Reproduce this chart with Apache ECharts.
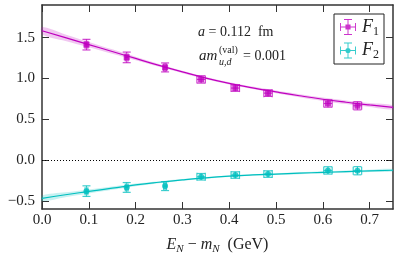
<!DOCTYPE html>
<html>
<head>
<meta charset="utf-8">
<script src="https://cdn.jsdelivr.net/npm/echarts@6/dist/echarts.min.js"></script>
<style>html,body{margin:0;padding:0;background:#fff}#c{width:399px;height:258px}</style>
</head>
<body>
<div id="c"></div>
<script>
// ---- data ----
const xTicks = [0.0, 0.1, 0.2, 0.3, 0.4, 0.5, 0.6, 0.7];
const yTicks = [-0.5, 0.0, 0.5, 1.0, 1.5];

const f1X    = [0.095, 0.181, 0.263, 0.340, 0.413, 0.483, 0.611, 0.674];
const f1Y    = [1.414, 1.258, 1.135, 0.988, 0.882, 0.820, 0.693, 0.665];
const f1Xerr = [0.003, 0.003, 0.003, 0.009, 0.009, 0.009, 0.009, 0.009];
const f1Yerr = [0.065, 0.065, 0.055, 0.045, 0.040, 0.040, 0.045, 0.050];

const f2X    = [0.095, 0.181, 0.263, 0.340, 0.413, 0.483, 0.611, 0.674];
const f2Y    = [-0.381, -0.336, -0.319, -0.205, -0.184, -0.172, -0.127, -0.131];
const f2Xerr = [0.003, 0.003, 0.003, 0.009, 0.009, 0.009, 0.009, 0.009];
const f2Yerr = [0.065, 0.060, 0.055, 0.040, 0.040, 0.040, 0.045, 0.050];

const fitX   = [0.00, 0.05, 0.10, 0.15, 0.20, 0.25, 0.30, 0.35, 0.40, 0.45, 0.50, 0.55, 0.60, 0.65, 0.70, 0.75];
const f1Fit  = [1.585, 1.500, 1.415, 1.330, 1.245, 1.160, 1.080, 1.005, 0.940, 0.885, 0.835, 0.788, 0.745, 0.708, 0.675, 0.645];
const f1Band = [0.045, 0.040, 0.033, 0.027, 0.022, 0.018, 0.015, 0.014, 0.014, 0.015, 0.016, 0.018, 0.020, 0.022, 0.024, 0.026];
const f2Fit  = [-0.470, -0.425, -0.385, -0.345, -0.305, -0.272, -0.243, -0.218, -0.198, -0.183, -0.172, -0.161, -0.151, -0.142, -0.133, -0.125];
const f2Band = [0.035, 0.030, 0.025, 0.020, 0.016, 0.013, 0.011, 0.010, 0.010, 0.010, 0.011, 0.012, 0.013, 0.014, 0.015, 0.016];

// ---- chart ----
const MAG = '#bf00bf', CYA = '#00bfbf';
const FONT = '"Liberation Serif", "DejaVu Serif", serif';
const AX = '#333';

function bandSeries(fit, band, color) {
  return {
    type: 'custom', coordinateSystem: 'cartesian2d', silent: true, z: 1,
    data: [[fitX[0], fit[0]]],
    encode: { x: 0, y: 1 },
    renderItem: function (params, api) {
      const pts = [];
      for (let i = 0; i < fitX.length; i++) pts.push(api.coord([fitX[i], fit[i] + band[i]]));
      for (let i = fitX.length - 1; i >= 0; i--) pts.push(api.coord([fitX[i], fit[i] - band[i]]));
      return { type: 'polygon', shape: { points: pts, smooth: 0.3 }, style: { fill: color, opacity: 0.22 } };
    }
  };
}
function errSeries(xs, ys, xe, ye, color) {
  const data = xs.map((x, i) => [x, ys[i], xe[i], ye[i]]);
  return {
    type: 'custom', coordinateSystem: 'cartesian2d', silent: true, z: 3,
    data: data, encode: { x: 0, y: 1 },
    renderItem: function (params, api) {
      const x = api.value(0), y = api.value(1), dx = api.value(2), dy = api.value(3);
      const t = api.coord([x, y + dy]), b = api.coord([x, y - dy]);
      const l = api.coord([x - dx, y]), r = api.coord([x + dx, y]);
      const cap = 4;
      const st = { stroke: color, lineWidth: 1.2, opacity: 0.75 };
      const ln = (x1, y1, x2, y2) => ({ type: 'line', shape: { x1, y1, x2, y2 }, style: st });
      return { type: 'group', children: [
        ln(t[0], t[1], b[0], b[1]),
        ln(t[0] - cap, t[1], t[0] + cap, t[1]),
        ln(b[0] - cap, b[1], b[0] + cap, b[1]),
        ln(l[0], l[1], r[0], r[1]),
        ln(l[0], l[1] - cap, l[0], l[1] + cap),
        ln(r[0], r[1] - cap, r[0], r[1] + cap)
      ]};
    }
  };
}
const bars = 'M0 9.4H20V10.6H0Z M0 5H1.2V15H0Z M18.8 5H20V15H18.8Z M9.4 0H10.6V20H9.4Z M5 0H15V1.2H5Z M5 18.8H15V20H5Z ';
const iconSq = 'path://' + bars + 'M6.8 6.8H13.2V13.2H6.8Z';
const iconCi = 'path://' + bars + 'M13.2 10A3.2 3.2 0 1 1 6.8 10A3.2 3.2 0 1 1 13.2 10Z';

const axisCommon = {
  axisLine: { show: true, onZero: false, lineStyle: { color: AX, width: 1.5 } },
  axisTick: { show: true, inside: true, length: 7, lineStyle: { color: AX, width: 1 } },
  splitLine: { show: false }
};
const fmt = v => (v < 0 ? '\u2212' + Math.abs(v).toFixed(1) : v.toFixed(1));

const option = {
  animation: false,
  backgroundColor: '#fff',
  grid: { left: 42, right: 6, top: 5, bottom: 49, containLabel: false, outerBoundsMode: 'none' },
  xAxis: [
    Object.assign({ type: 'value', min: 0, max: 0.75, position: 'bottom',
      axisLabel: { customValues: xTicks, formatter: fmt, fontFamily: FONT, fontSize: 15, color: '#222', margin: 4 },
      name: '{i|E}{s|N}{t| \u2212 }{i|m}{s|N}{t|  (GeV)}', nameLocation: 'middle', nameGap: 26,
      nameTextStyle: { fontFamily: FONT, color: '#222', rich: {
        i: { fontFamily: FONT, fontStyle: 'italic', fontSize: 16, color: '#222' },
        s: { fontFamily: FONT, fontStyle: 'italic', fontSize: 11, color: '#222', padding: [9, 0, 0, 0] },
        t: { fontFamily: FONT, fontSize: 16, color: '#222' } } }
    }, axisCommon, { axisTick: Object.assign({}, axisCommon.axisTick, { customValues: xTicks }) }),
    Object.assign({ type: 'value', min: 0, max: 0.75, position: 'top', axisLabel: { show: false } },
      axisCommon, { axisTick: Object.assign({}, axisCommon.axisTick, { customValues: xTicks }) })
  ],
  yAxis: [
    Object.assign({ type: 'value', min: -0.6, max: 1.9, position: 'left',
      axisLabel: { customValues: yTicks, formatter: fmt, fontFamily: FONT, fontSize: 15, color: '#222', margin: 7 }
    }, axisCommon, { axisTick: Object.assign({}, axisCommon.axisTick, { customValues: yTicks }) }),
    Object.assign({ type: 'value', min: -0.6, max: 1.9, position: 'right', axisLabel: { show: false } },
      axisCommon, { axisTick: Object.assign({}, axisCommon.axisTick, { customValues: yTicks }) })
  ],
  legend: {
    orient: 'vertical', right: 15, top: 14,
    itemWidth: 18, itemHeight: 16, itemGap: 4,
    padding: [4, 5, 3, 6],
    borderColor: '#222', borderWidth: 1, borderRadius: 0,
    data: [{ name: 'F1', icon: iconSq }, { name: 'F2', icon: iconCi }],
    formatter: n => '{i|F}{s|' + n.slice(1) + '}',
    textStyle: { fontFamily: FONT, color: '#222', rich: {
      i: { fontFamily: FONT, fontStyle: 'italic', fontSize: 18, color: '#222' },
      s: { fontFamily: FONT, fontSize: 12, color: '#222', padding: [9, 0, 0, 0] } } }
  },
  graphic: [
    { type: 'text', left: 198, top: 25, style: { text: '{i|a}{t| = 0.112  fm}', rich: {
        i: { fontFamily: FONT, fontStyle: 'italic', fontSize: 14, fill: '#222' },
        t: { fontFamily: FONT, fontSize: 14, fill: '#222' } } } },
    { type: 'text', left: 199, top: 49, style: { text: 'am', font: 'italic 15px ' + FONT, fill: '#222' } },
    { type: 'text', left: 219, top: 45, style: { text: '(val)', font: '10px ' + FONT, fill: '#222' } },
    { type: 'text', left: 219, top: 57, style: { text: 'u,d', font: 'italic 10px ' + FONT, fill: '#222' } },
    { type: 'text', left: 243, top: 49, style: { text: '= 0.001', font: '14px ' + FONT, fill: '#222' } }
  ],
  series: [
    bandSeries(f1Fit, f1Band, MAG),
    bandSeries(f2Fit, f2Band, CYA),
    { type: 'line', data: fitX.map((x, i) => [x, f1Fit[i]]), smooth: true, showSymbol: false, silent: true,
      lineStyle: { color: MAG, width: 1.2 }, z: 2 },
    { type: 'line', data: fitX.map((x, i) => [x, f2Fit[i]]), smooth: true, showSymbol: false, silent: true,
      lineStyle: { color: CYA, width: 1.2 }, z: 2,
      markLine: { silent: true, symbol: 'none', label: { show: false },
        lineStyle: { color: '#000', type: [1, 2], width: 1 }, data: [{ yAxis: 0 }] } },
    errSeries(f1X, f1Y, f1Xerr, f1Yerr, MAG),
    errSeries(f2X, f2Y, f2Xerr, f2Yerr, CYA),
    { name: 'F1', type: 'scatter', symbol: 'rect', symbolSize: 6, z: 4,
      itemStyle: { color: MAG }, data: f1X.map((x, i) => [x, f1Y[i]]) },
    { name: 'F2', type: 'scatter', symbol: 'circle', symbolSize: 6, z: 4,
      itemStyle: { color: CYA }, data: f2X.map((x, i) => [x, f2Y[i]]) }
  ]
};
echarts.init(document.getElementById('c'), null, { renderer: 'canvas' }).setOption(option);
</script>
</body>
</html>
